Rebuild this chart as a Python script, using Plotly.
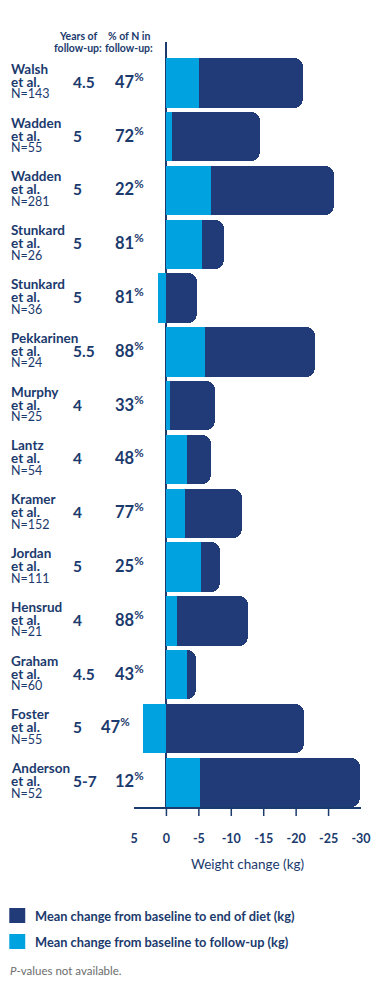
import plotly.graph_objects as go

# ---------------- data ----------------
study_names = ["Walsh", "Wadden", "Wadden", "Stunkard", "Stunkard", "Pekkarinen", "Murphy",
               "Lantz", "Kramer", "Jordan", "Hensrud", "Graham", "Foster", "Anderson"]
study_n = [143, 55, 281, 26, 36, 24, 25, 54, 152, 111, 21, 60, 55, 52]
years_followup = ["4.5", "5", "5", "5", "5", "5.5", "4", "4", "4", "5", "4", "4.5", "5", "5-7"]
pct_in_followup = [47, 72, 22, 81, 81, 88, 33, 48, 77, 25, 88, 43, 47, 12]
end_of_diet = [-21.0, -14.4, -25.8, -8.9, -4.7, -22.9, -7.5, -6.8, -11.7, -8.2, -12.6, -4.5, -21.2, -29.9]
follow_up = [-5.0, -0.8, -6.8, -5.5, 1.3, -5.9, -0.6, -3.2, -2.8, -5.3, -1.6, -3.2, 3.6, -5.1]
tick_vals = [5, 0, -5, -10, -15, -20, -25, -30]
tick_text = ["5", "0", "-5", "-10", "-15", "-20", "-25", "-30"]
legend_labels = ["Mean change from baseline to end of diet (kg)",
                 "Mean change from baseline to follow-up (kg)"]

# ---------------- styles ----------------
DARK = "#213a78"
LIGHT = "#00a3df"
NAVY = "#1b3a6d"
FONT = "Lato"

W, H = 375, 1006
# plot area in page pixel coordinates
PX0, PX1, PY0, PY1 = 134, 361.5, 42, 807
ML, MR = PX0, W - PX1
MT, MB = PY0, H - PY1
PW = PX1 - PX0
PH = PY1 - PY0
XR = [5, -30]


def px_to_paper_x(px):
    return (px - PX0) / PW


def px_to_paper_y(py):
    return 1 - (py - PY0) / PH


def val_to_px(v):
    return PX0 + (XR[0] - v) / (XR[0] - XR[1]) * PW


rows = list(range(len(study_names)))

fig = go.Figure()
fig.add_trace(go.Bar(
    y=rows, x=end_of_diet, orientation="h",
    marker=dict(color=DARK, cornerradius=9, line=dict(width=0)),
    width=0.92, name=legend_labels[0], showlegend=False, hoverinfo="x"))
fig.add_trace(go.Bar(
    y=rows, x=follow_up, orientation="h", marker=dict(color=LIGHT, line=dict(width=0)),
    width=0.92, name=legend_labels[1], showlegend=False, hoverinfo="x"))

ann = []
# column headers
for cx, lines in [(78, ["Years of", "follow-up:"]), (129, ["% of N in", "follow-up:"])]:
    for ly, t in zip([36, 48.5], lines):
        ann.append(dict(x=px_to_paper_x(cx), y=px_to_paper_y(ly), xref="paper", yref="paper",
                        text="<b>" + t + "</b>", showarrow=False, xanchor="center", yanchor="middle",
                        font=dict(family=FONT, size=10.5, color=NAVY)))

for i, r in enumerate(rows):
    ann.append(dict(x=px_to_paper_x(8.5), y=r, xref="paper", yref="y", yshift=14,
                    text="<b>" + study_names[i] + "</b>", showarrow=False,
                    xanchor="left", yanchor="middle",
                    font=dict(family=FONT, size=13.5, color=NAVY)))
    ann.append(dict(x=px_to_paper_x(8.5), y=r, xref="paper", yref="y", yshift=1,
                    text="<b>et al.</b>", showarrow=False,
                    xanchor="left", yanchor="middle",
                    font=dict(family=FONT, size=13.5, color=NAVY)))
    ann.append(dict(x=px_to_paper_x(8.5), y=r, xref="paper", yref="y", yshift=-11,
                    text="N=" + str(study_n[i]), showarrow=False,
                    xanchor="left", yanchor="middle",
                    font=dict(family=FONT, size=12.5, color=NAVY)))
    ann.append(dict(x=px_to_paper_x(71), y=r, xref="paper", yref="y", yshift=1,
                    text="<b>" + years_followup[i] + "</b>", showarrow=False,
                    xanchor="left", yanchor="middle",
                    font=dict(family=FONT, size=15.5, color=NAVY)))
    left_edge = min(val_to_px(max(follow_up[i], 0)), val_to_px(0))
    right_px = min(146.5, left_edge - 11)
    ann.append(dict(x=px_to_paper_x(right_px), y=r, xref="paper", yref="y", yshift=2,
                    text="<b>" + str(pct_in_followup[i]) + "<sup>%</sup></b>", showarrow=False,
                    xanchor="right", yanchor="middle",
                    font=dict(family=FONT, size=16.5, color=NAVY)))

# axis title
ann.append(dict(x=0.5, y=px_to_paper_y(864), xref="paper", yref="paper",
                text="Weight change (kg)", showarrow=False, xanchor="center", yanchor="middle",
                font=dict(family=FONT, size=13.5, color=NAVY)))

# legend (manual)
shapes = []
colors = [DARK, LIGHT]
leg_y = [915.5, 941.5]
for k in range(2):
    shapes.append(dict(type="rect", xref="paper", yref="paper",
                       x0=px_to_paper_x(9), x1=px_to_paper_x(25),
                       y0=px_to_paper_y(leg_y[k] - 7.5), y1=px_to_paper_y(leg_y[k] + 7.5),
                       fillcolor=colors[k], line=dict(width=0)))
    ann.append(dict(x=px_to_paper_x(33), y=px_to_paper_y(leg_y[k]), xref="paper", yref="paper",
                    text="<b>" + legend_labels[k] + "</b>", showarrow=False,
                    xanchor="left", yanchor="middle",
                    font=dict(family=FONT, size=12.8, color=NAVY)))
ann.append(dict(x=px_to_paper_x(8), y=px_to_paper_y(971), xref="paper", yref="paper",
                text="<i>P</i>-values not available.", showarrow=False,
                xanchor="left", yanchor="middle",
                font=dict(family=FONT, size=11.5, color="#6d6d6d")))

# tick marks (only inner ticks)
for v in tick_vals[1:-1]:
    shapes.append(dict(type="line", xref="x", yref="paper", x0=v, x1=v,
                       y0=0, y1=-9 / PH, line=dict(color=NAVY, width=1.5)))

fig.update_layout(
    width=W, height=H, autosize=False,
    margin=dict(l=ML, r=MR, t=MT, b=MB, pad=0, autoexpand=False),
    paper_bgcolor="white", plot_bgcolor="white",
    barmode="overlay", bargap=0,
    annotations=ann, shapes=shapes,
    xaxis=dict(range=XR, tickvals=tick_vals, ticktext=tick_text,
               showgrid=False, zeroline=True, zerolinecolor=NAVY, zerolinewidth=2,
               showline=True, linecolor=NAVY, linewidth=2,
               ticks="outside", ticklen=8, tickcolor="rgba(0,0,0,0)", ticklabelstandoff=11,
               ticklabeloverflow="allow",
               tickfont=dict(family=FONT, size=12.5, color=NAVY, weight="bold"),
               fixedrange=True, automargin=False),
    yaxis=dict(range=[13.46, -0.76], showgrid=False, zeroline=False, showline=False,
               showticklabels=False, ticks="", fixedrange=True, automargin=False),
    showlegend=False,
)

# remove the browser's default 8px page margin so the figure fills the window
fig.write_html("out.html", config={"displayModeBar": False},
               post_script="document.body.style.margin='0px';")
